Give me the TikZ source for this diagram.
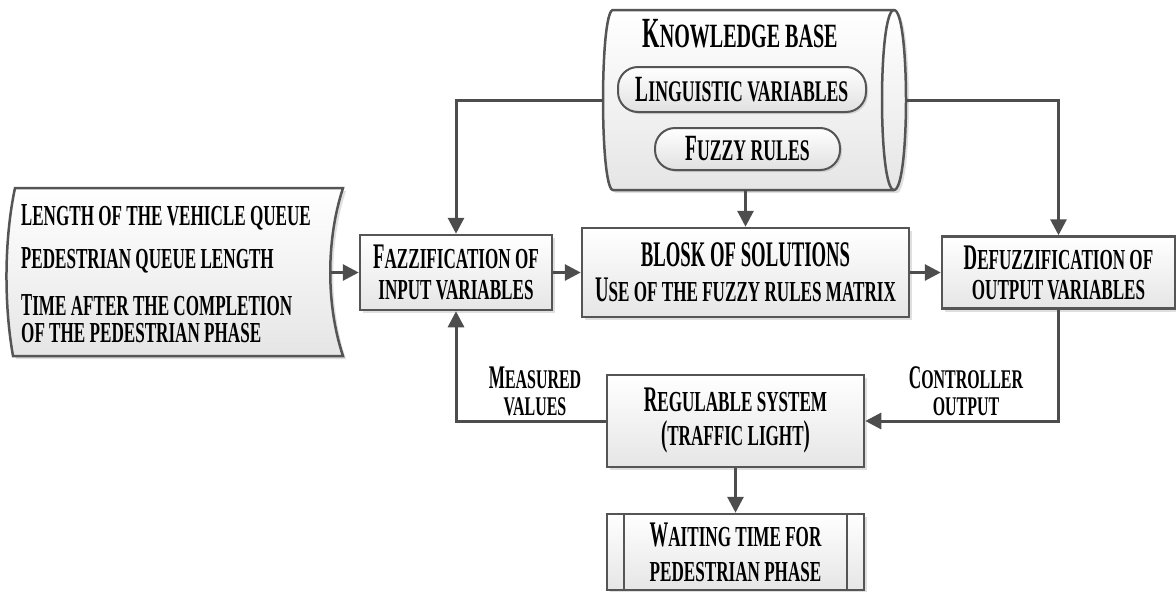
\documentclass[tikz,border=0pt]{standalone}
\usepackage{fontspec}
\setmainfont{Liberation Serif}[FakeStretch=0.52]
\newfontfamily\scf{Liberation Serif}[FakeStretch=0.59]
\usetikzlibrary{arrows.meta,shadows,calc}
\definecolor{edge}{HTML}{555555}
\definecolor{arr}{HTML}{4D4D4D}
\newcommand\scsz{29}
\newcommand\sm[1]{{\scf\bfseries\fontsize{\scsz}{\scsz}\selectfont #1}}
\newcommand\setsz[3]{\renewcommand\scsz{#2}\fontsize{#1}{#3}\selectfont\bfseries}
\begin{document}
\begin{tikzpicture}[x=1pt,y=-1pt,
  shade/.style={draw=edge, line width=2.5pt, top color=white, bottom color=black!10,
    drop shadow={opacity=0.25, shadow xshift=3pt, shadow yshift=-3pt}},
  box/.style={shade, rectangle, align=center, inner sep=0pt},
  pill/.style={draw=edge, line width=2pt, top color=white, bottom color=black!12,
    rounded corners=20pt, align=center, inner sep=0pt,
    drop shadow={opacity=0.25, shadow xshift=2pt, shadow yshift=-2pt}},
  txt/.style={inner sep=0pt, anchor=base},
  conn/.style={draw=arr, line width=3pt, -{Triangle[length=16pt,width=16pt]}}]
\useasboundingbox (0,0) rectangle (1176,592);

% knowledge base cylinder
\path[shade] (613,10) -- (894,10) .. controls (910,10) and (910,190) .. (894,190)
  -- (613,190) .. controls (599.7,190) and (599.7,10) .. (613,10) -- cycle;
\draw[draw=edge, line width=2.5pt] (894,10) .. controls (878,10) and (878,190) .. (894,190);
\coordinate (kbL) at (603,100);
\coordinate (kbR) at (906,100);
\coordinate (kbB) at (745.5,190);
\node[txt, font=\setsz{43}{34}{43}] (kbt) at (740,47) {K\sm{NOWLEDGE BASE}};
\node[pill, minimum width=248pt, minimum height=45pt, font=\setsz{37}{30}{37}] (ling) at (742,89.5) {L\sm{INGUISTIC VARIABLES}};
\node[pill, minimum width=185pt, minimum height=42pt, font=\setsz{37}{30}{37}] (rules) at (747.5,149) {F\sm{UZZY RULES}};

% input shape
\path[shade] (15,188) -- (343,188) .. controls (326,240) and (326,305) .. (343,356)
  -- (13,356) .. controls (4,305) and (4,240) .. (15,188) -- cycle;
\coordinate (inR) at (331,272.5);
\node[txt, anchor=base west, font=\setsz{32}{29}{32}] (in1) at (21,225) {L\sm{ENGTH OF THE VEHICLE QUEUE}};
\node[txt, anchor=base west, font=\setsz{32}{29}{32}] (in2) at (21,268) {P\sm{EDESTRIAN QUEUE LENGTH}};
\node[txt, anchor=base west, font=\setsz{32}{29}{32}] (in3) at (21,315) {T\sm{IME AFTER THE COMPLETION}};
\node[txt, anchor=base west, font=\setsz{32}{29}{32}] (in4) at (21,342) {\sm{OF THE PEDESTRIAN PHASE}};

% boxes
\node[box, minimum width=192pt, minimum height=75pt, font=\setsz{36}{29}{31}] (fuz) at (456,272.5)
  {F\sm{AZZIFICATION OF}\\\sm{INPUT VARIABLES}};
\node[box, minimum width=327pt, minimum height=89pt, font=\setsz{36}{29}{35}] (blk) at (745.5,272.5)
  {BLOSK OF SOLUTIONS\\U\sm{SE OF THE FUZZY RULES MATRIX}};
\node[box, minimum width=233pt, minimum height=72pt, font=\setsz{36}{29}{30}] (def) at (1058.5,272.5)
  {D\sm{EFUZZIFICATION OF}\\\sm{OUTPUT VARIABLES}};
\node[box, minimum width=257pt, minimum height=92pt, font=\setsz{36}{29}{34}] (reg) at (735.5,421)
  {R\sm{EGULABLE SYSTEM}\\(\sm{TRAFFIC LIGHT})};
\node[box, minimum width=257pt, minimum height=76pt, font=\setsz{36}{29}{35}] (wait) at (735.5,552)
  {W\sm{AITING TIME FOR}\\\sm{PEDESTRIAN PHASE}};
\draw[draw=edge, line width=2pt] ([xshift=18pt]wait.north west) -- ([xshift=18pt]wait.south west);
\draw[draw=edge, line width=2pt] ([xshift=-18pt]wait.north east) -- ([xshift=-18pt]wait.south east);

% labels
\node[txt, font=\setsz{33}{27}{33}] (lm1) at (535,388) {M\sm{EASURED}};
\node[txt, font=\setsz{33}{27}{33}] (lm2) at (535,415) {\sm{VALUES}};
\node[txt, font=\setsz{33}{27}{33}] (lc1) at (966,388) {C\sm{ONTROLLER}};
\node[txt, font=\setsz{33}{27}{33}] (lc2) at (966,415) {\sm{OUTPUT}};

% connectors
\draw[conn] (kbL) -| (fuz.north);
\draw[conn] (kbR) -| (def.north);
\draw[conn] (kbB) -- (blk.north);
\draw[conn] (inR) -- (fuz.west);
\draw[conn] (fuz.east) -- (blk.west);
\draw[conn] (blk.east) -- (def.west);
\draw[conn] (def.south) |- (reg.east);
\draw[conn] (reg.west) -| (fuz.south);
\draw[conn] (reg.south) -- (wait.north);
\end{tikzpicture}
\end{document}
